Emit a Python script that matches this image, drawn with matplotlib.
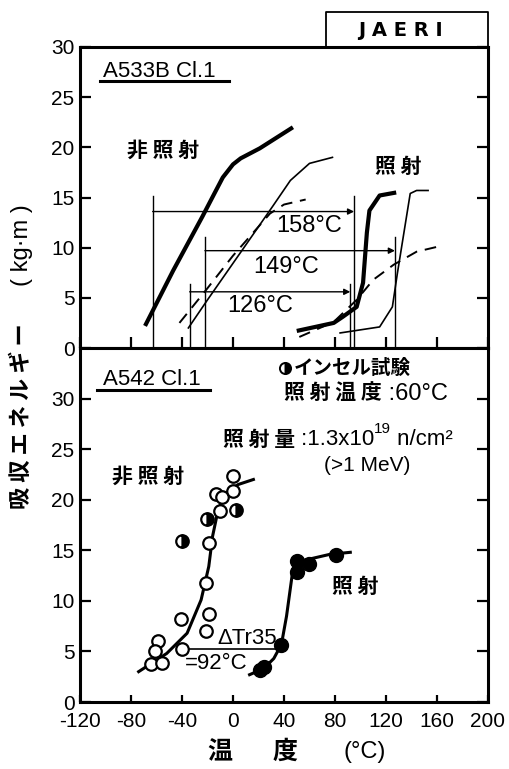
import matplotlib
matplotlib.use("Agg")
import matplotlib.pyplot as plt
from matplotlib.lines import Line2D

# ---------------- data ----------------
# A533B Cl.1 : Charpy transition curves (temperature degC, absorbed energy kg.m)
a533_unirr_thick_T = [-69, -47, -24, -15, -8, 0, 6, 21, 47]
a533_unirr_thick_E = [2.2, 7.7, 13.1, 15.3, 17.0, 18.3, 18.9, 19.9, 22.0]
a533_unirr_thin_T = [-35, -20, 8, 31, 45, 60, 78]
a533_unirr_thin_E = [2.0, 4.8, 9.9, 14.1, 16.7, 18.4, 19.0]
a533_unirr_dash_T = [-42, -21, 0, 29, 40, 57]
a533_unirr_dash_E = [2.5, 5.8, 9.2, 13.4, 14.3, 14.8]
a533_irr_thick_T = [50, 79, 86, 97, 102, 105, 107, 115, 128]
a533_irr_thick_E = [1.7, 2.5, 3.1, 4.1, 6.5, 11.5, 13.7, 15.2, 15.5]
a533_irr_thin_T = [84, 115, 125, 129, 139, 144, 153]
a533_irr_thin_E = [1.5, 2.1, 4.1, 7.5, 15.4, 15.7, 15.7]
a533_irr_dash_T = [52, 79, 97, 110, 126, 144, 164]
a533_irr_dash_E = [1.1, 2.6, 4.8, 6.8, 8.3, 9.6, 10.2]

# transition temperature shifts (degC) with their start temperature and energy level
shift_values = [158, 149, 126]
shift_start_T = [-63, -22, -34]
shift_level_E = [13.6, 9.7, 5.6]
shift_marker_top_E = [15.1, 11.1, 6.4]

# A542 Cl.1 : test results
a542_open_T = [0, -13, -9, 0, -10, -19, -21, -41, -19, -21, -40, -59, -61, -64, -56]
a542_open_E = [22.3, 20.6, 20.3, 20.9, 18.9, 15.7, 11.8, 8.2, 8.7, 7.0, 5.2, 6.0, 5.0, 3.8, 3.9]
a542_incell_T = [-40, -20, 2]
a542_incell_E = [15.9, 18.1, 19.0]
a542_irr_T = [21, 24, 38, 50, 50, 60, 81]
a542_irr_E = [3.2, 3.5, 5.6, 13.9, 12.9, 13.6, 14.5]
a542_unirr_fit_T = [-74, -52, -36, -25, -19, -16, -11.5, -5, 4, 16]
a542_unirr_fit_E = [3.0, 4.8, 6.8, 10.1, 13.4, 16.4, 19.1, 20.7, 21.5, 22.0]
a542_irr_fit_T = [13, 24, 32, 38, 42, 47, 52, 76, 92]
a542_irr_fit_E = [2.7, 3.3, 4.3, 5.7, 8.5, 13.1, 13.9, 14.6, 14.8]
dtr35_T = [-36, 34]
dtr35_E = 5.2
dtr35_value = 92

x_ticks = [-120, -80, -40, 0, 40, 80, 120, 160, 200]
x_ticklabels = ["-120", "-80", "-40", "0", "40", "80", "120", "160", "200"]
y_ticks = [0, 5, 10, 15, 20, 25, 30]

# ---------------- style ----------------
LATIN = ["Liberation Sans", "DejaVu Sans"]
CJK = ["Noto Sans CJK JP", "DejaVu Sans"]
plt.rcParams["font.family"] = LATIN

W, H = 510, 769
fig = plt.figure(figsize=(W / 100, H / 100), dpi=100)


def fx(px):
    return px / W


def fy(py):
    return 1 - py / H


ax_top = fig.add_axes([fx(80), fy(348), fx(488) - fx(80), fy(47) - fy(348)])
ax_bot = fig.add_axes([fx(80), fy(702), fx(488) - fx(80), fy(348) - fy(702)])

for ax in (ax_top, ax_bot):
    ax.set_xlim(-120, 200)
    ax.set_xticks(x_ticks)
    for s in ax.spines.values():
        s.set_linewidth(2.2)
    ax.tick_params(direction="in", width=1.6, length=8, labelsize=15,
                   left=True, right=True, bottom=True, top=False, pad=4)
    ax.set_yticks(y_ticks)
    ax.set_yticklabels([str(v) for v in y_ticks])

ax_top.set_ylim(0, 30)
ax_top.set_xticklabels([])
ax_bot.set_ylim(0, 35)
ax_bot.set_xticklabels(x_ticklabels)
ax_bot.tick_params(axis="x", length=5, pad=7)

# ---------------- top panel: A533B Cl.1 ----------------
k = "black"
ax_top.plot(a533_unirr_thick_T, a533_unirr_thick_E, color=k, lw=3.0, solid_capstyle="butt")
ax_top.plot(a533_unirr_thin_T, a533_unirr_thin_E, color=k, lw=1.2)
ax_top.plot(a533_unirr_dash_T, a533_unirr_dash_E, color=k, lw=1.4, dashes=(6, 4))
ax_top.plot(a533_irr_thick_T, a533_irr_thick_E, color=k, lw=3.0, solid_capstyle="butt")
ax_top.plot(a533_irr_thin_T, a533_irr_thin_E, color=k, lw=1.2)
ax_top.plot(a533_irr_dash_T, a533_irr_dash_E, color=k, lw=1.4, dashes=(6, 4))

for dv, t0, lev, top in zip(shift_values, shift_start_T, shift_level_E, shift_marker_top_E):
    t1 = t0 + dv
    ax_top.plot([t0, t0], [0, top], color=k, lw=1.0)
    ax_top.plot([t1, t1], [0, top], color=k, lw=1.0)
    ax_top.annotate("", xy=(t1, lev), xytext=(t0, lev),
                    arrowprops=dict(arrowstyle="-|>", color=k, lw=1.0,
                                    mutation_scale=9, shrinkA=0, shrinkB=0))

label_pos = {158: (60, 12.2), 149: (42, 8.1), 126: (21, 4.2)}
for dv in shift_values:
    x, y = label_pos[dv]
    ax_top.text(x, y, f"{dv}°C", ha="center", va="center", fontsize=17)

ax_top.text(-102, 27.6, "A533B Cl.1", ha="left", va="center", fontsize=16)
ax_top.plot([-104, -3], [26.6, 26.6], color=k, lw=2.2, clip_on=False)
ax_top.text(-83, 19.7, "非 照 射", ha="left", va="center", fontsize=15,
            fontfamily=CJK, fontweight="bold")
ax_top.text(111, 18.1, "照 射", ha="left", va="center", fontsize=15,
            fontfamily=CJK, fontweight="bold")

# ---------------- bottom panel: A542 Cl.1 ----------------
ax_bot.plot(a542_unirr_fit_T, a542_unirr_fit_E, color=k, lw=2.2, zorder=2)
ax_bot.plot(a542_irr_fit_T, a542_irr_fit_E, color=k, lw=2.2, zorder=2)
ax_bot.plot(a542_open_T, a542_open_E, "o", ms=9, mfc="white", mec=k, mew=1.6, zorder=3)
ax_bot.plot(a542_incell_T, a542_incell_E, "o", ms=9, mfc=k, mfcalt="white",
            fillstyle="right", mec=k, mew=1.6, zorder=3)
ax_bot.plot(a542_irr_T, a542_irr_E, "o", ms=10, mfc=k, mec=k, zorder=3)

ax_bot.plot(dtr35_T, [dtr35_E, dtr35_E], color=k, lw=1.2, zorder=1)
ax_bot.text(-12.5, 6.3, "ΔTr35", ha="left", va="center", fontsize=16)
ax_bot.text(-38, 3.8, f"={dtr35_value}°C", ha="left", va="center", fontsize=16)

ax_bot.text(-102, 31.9, "A542 Cl.1", ha="left", va="center", fontsize=16)
ax_bot.plot([-107, -18], [30.8, 30.8], color=k, lw=2.2, clip_on=False)
ax_bot.text(-95, 22.3, "非 照 射", ha="left", va="center", fontsize=15,
            fontfamily=CJK, fontweight="bold")
ax_bot.text(78, 11.4, "照 射", ha="left", va="center", fontsize=15,
            fontfamily=CJK, fontweight="bold")

# legend / irradiation conditions
ax_bot.plot([41], [33.0], "o", ms=8, mfc=k, mfcalt="white", fillstyle="right",
            mec=k, mew=1.4)
ax_bot.text(48, 33.0, "インセル試験", ha="left", va="center", fontsize=14,
            fontfamily=CJK, fontweight="bold")
c1 = ax_bot.text(40, 30.5, "照 射 温 度", ha="left", va="center", fontsize=15,
                 fontfamily=CJK, fontweight="bold")
ax_bot.annotate(" :60°C", xy=(1, 0.5), xycoords=c1, ha="left", va="center",
                fontsize=17)
d1 = ax_bot.text(-8, 26.0, "照 射 量", ha="left", va="center", fontsize=15,
                 fontfamily=CJK, fontweight="bold")
d2 = ax_bot.annotate(" :1.3x10", xy=(1, 0.5), xycoords=d1, ha="left",
                     va="center", fontsize=16)
d3 = ax_bot.annotate("19", xy=(1, 1.0), xycoords=d2, ha="left", va="center",
                     fontsize=11)
ax_bot.annotate(" n/cm²", xy=(1, 0.5), xycoords=(d3, d2), ha="left",
                va="center", fontsize=16)
ax_bot.text(105, 23.4, "(>1 MeV)", ha="center", va="center", fontsize=15)

# ---------------- axis titles ----------------
fig.text(fx(22), fy(416), "吸 収 エ ネ ル ギ ー", rotation=90,
         ha="center", va="center", fontsize=16, fontfamily=CJK, fontweight="bold")
fig.text(fx(22), fy(245), "( kg·m )", rotation=90,
         ha="center", va="center", fontsize=17)
fig.text(fx(220), fy(752), "温", ha="center", va="center", fontsize=18,
         fontfamily=CJK, fontweight="bold")
fig.text(fx(285), fy(752), "度", ha="center", va="center", fontsize=18,
         fontfamily=CJK, fontweight="bold")
fig.text(fx(365), fy(752), "(°C)", ha="center", va="center", fontsize=17)

# ---------------- JAERI box ----------------
fig.add_artist(Line2D([fx(326), fx(326), fx(488), fx(488)],
                      [fy(47), fy(12), fy(12), fy(47)],
                      transform=fig.transFigure, color=k, lw=1.3))
fig.text(fx(400), fy(31), "J A E R I", ha="center", va="center", fontsize=14,
         fontweight="bold", fontfamily=["DejaVu Sans"])

fig.savefig("out.png", dpi=100, facecolor="white")
